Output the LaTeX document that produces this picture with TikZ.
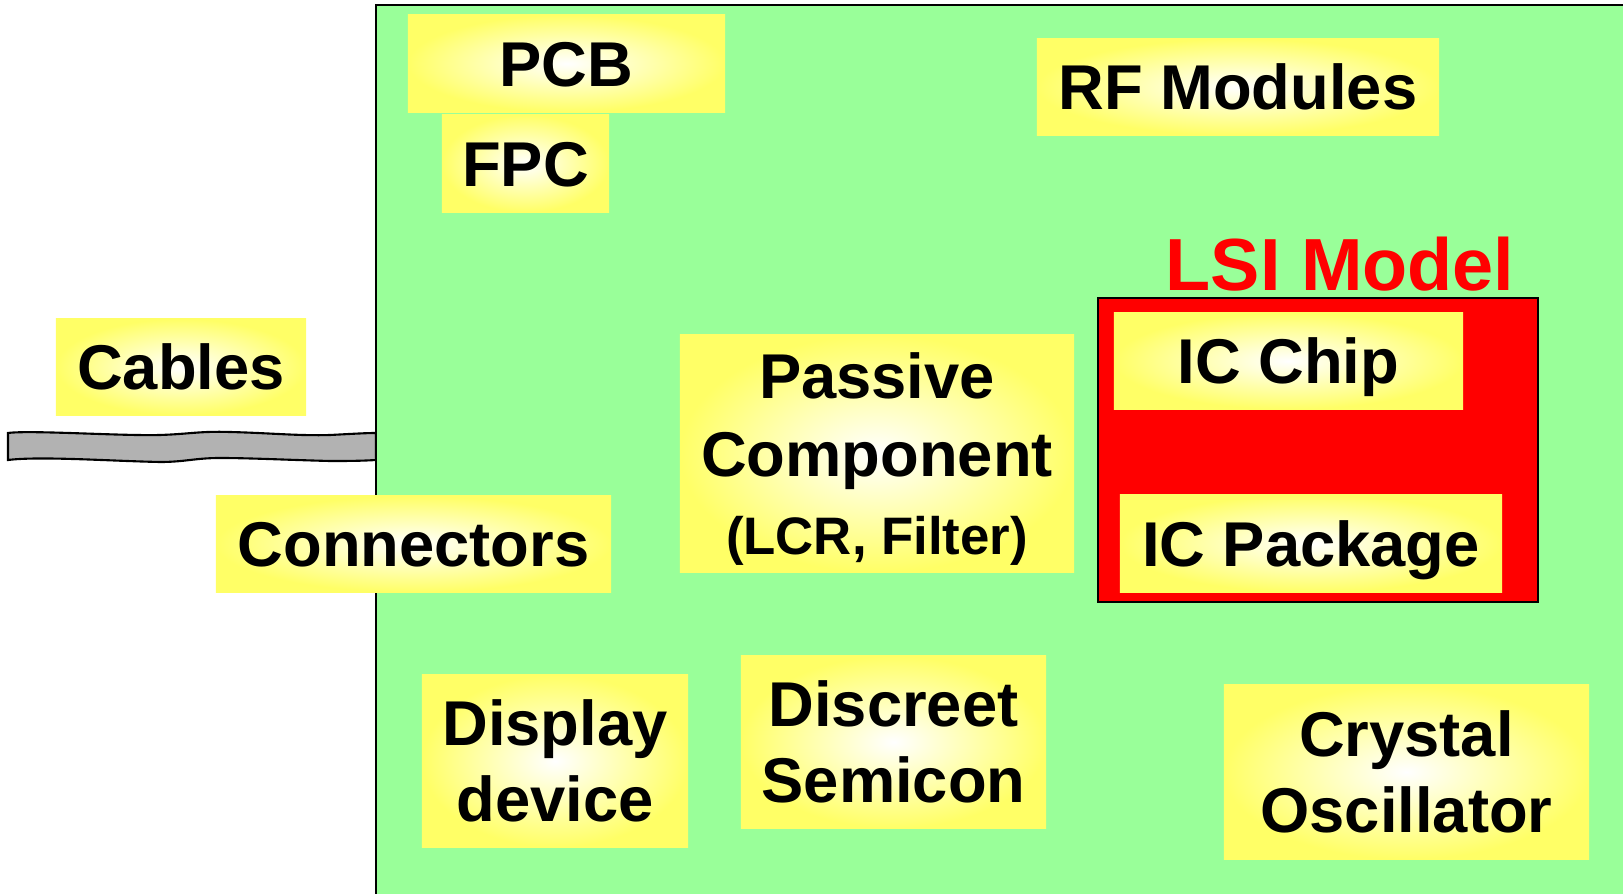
\documentclass[tikz,border=0pt]{standalone}
\usepackage{fontspec}
\setmainfont{Liberation Sans}
\usetikzlibrary{positioning}
\definecolor{boardgreen}{HTML}{99FF99}
\definecolor{partyellow}{HTML}{FFFF66}
\definecolor{cablegray}{HTML}{B2B2B2}
\tikzset{
    part/.style={inner color=white,outer color=partyellow,align=center,inner sep=0pt,
        font=\bfseries\fontsize{18}{21.5}\selectfont},
    oneline/.style={part,text height=13pt,text depth=0pt},
    board/.style={fill=boardgreen},
    edge/.style={draw=black,line width=0.8pt},
    lsi/.style={fill=red,draw=black,line width=0.6pt},
    cable/.style={fill=cablegray,draw=black,line width=0.6pt}
}

\begin{document}
\begin{tikzpicture}[x=0.01cm,y=-0.01cm]

                \useasboundingbox (0,0) rectangle (1623,894);
                \clip (0,0) rectangle (1623,894);

                % cable and board
                \draw[cable] (8,433) .. controls (30,430) and (120,436) .. (160,435)
                    .. controls (190,434) and (200,431) .. (230,432)
                    .. controls (270,433) and (300,436) .. (330,435)
                    .. controls (350,434) and (365,433) .. (376,433) -- (376,460)
                    .. controls (360,461) and (345,461) .. (330,461)
                    .. controls (290,460) and (250,458) .. (220,458)
                    .. controls (195,458) and (185,462) .. (160,462)
                    .. controls (110,461) and (40,456) .. (8,460) -- cycle;
                \fill[board] (376,5) rectangle (1700,960);
                \draw[edge] (1700,5) -- (376,5) -- (376,960);

                % LSI model
                \node[lsi]  (lsi box) [minimum width=4.40cm,minimum height=3.04cm] at (1318,450) {};
                \node       (lsi) [text=red,font=\bfseries\fontsize{21}{24}\selectfont] at (1340,264) {LSI Model};

                \node[oneline] (ic chip)    [minimum width=3.49cm,minimum height=0.96cm] at (1288.5,361)  {IC Chip};
                \node[oneline] (ic package) [minimum width=3.82cm,minimum height=0.97cm] at (1311,543.5)  {IC Package};

                % parts on the board
                \node[oneline] (pcb)        [minimum width=3.17cm,minimum height=0.97cm] at (566.5,63.5)  {PCB};
                \node[oneline] (fpc)        [minimum width=1.67cm,minimum height=0.97cm] at (525.5,163.5) {FPC};
                \node[oneline] (rf)         [minimum width=4.02cm,minimum height=0.96cm] at (1238,87)     {RF Modules};
                \node[oneline] (cables)     [minimum width=2.50cm,minimum height=0.96cm] at (181,367)     {Cables};
                \node[oneline] (connectors) [minimum width=3.95cm,minimum height=0.96cm] at (413.5,544)   {Connectors};
                \node[part] (passive)    [minimum width=3.94cm,minimum height=2.37cm,text depth=-1.5pt,
                    font=\bfseries\fontsize{18}{22.2}\selectfont] at (877,453.5)
                    {Passive\\Component\\{\fontsize{15}{20.2}\selectfont (LCR, Filter)}};
                \node[part] (display)    [minimum width=2.66cm,minimum height=1.72cm] at (555,761)     {Display\\device};
                \node[part] (discreet)   [minimum width=3.05cm,minimum height=1.72cm] at (893.5,742)   {Discreet\\Semicon};
                \node[part] (crystal)    [minimum width=3.65cm,minimum height=1.74cm] at (1406.5,772)  {Crystal\\Oscillator};

            \end{tikzpicture}
\end{document}
